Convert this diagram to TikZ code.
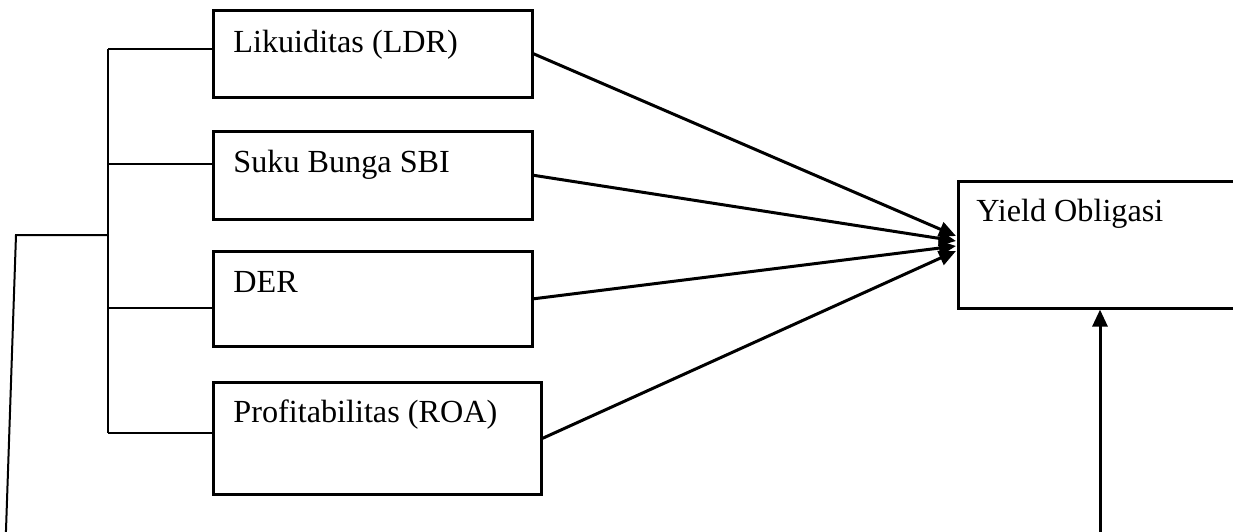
\documentclass[tikz,border=0pt]{standalone}
\usepackage{fontspec}
\setmainfont{Liberation Serif}
\usetikzlibrary{arrows.meta}
\begin{document}
\begin{tikzpicture}[x=0.5pt,y=-0.5pt,
  box/.style={draw, line width=1.3pt, inner sep=0pt, anchor=north west},
  lbl/.style={anchor=base west, inner sep=0pt, font=\fontsize{16.1}{19}\selectfont},
  conn/.style={line width=1.5pt, -{Triangle[length=8.5pt,width=7.5pt]}},
  brk/.style={line width=1pt}]
\clip (0,0) rectangle (1233,531);
% boxes
\node[box, minimum width=159.5pt, minimum height=43.5pt] (b1) at (212,9) {};
\node[box, minimum width=159.5pt, minimum height=44pt] (b2) at (212,130) {};
\node[box, minimum width=159.5pt, minimum height=47.5pt] (b3) at (212,250) {};
\node[box, minimum width=164pt, minimum height=56pt] (b4) at (212,381) {};
\node[box, minimum width=160pt, minimum height=63.5pt] (y) at (957,180) {};
% labels
\node[lbl] (t1) at (233,52) {Likuiditas (LDR)};
\node[lbl] (t2) at (233,172) {Suku Bunga SBI};
\node[lbl] (t3) at (233,292) {DER};
\node[lbl] (t4) at (233,422) {Profitabilitas (ROA)};
\node[lbl] (ty) at (976,221) {Yield Obligasi};
% bracket
\coordinate (k1) at (108,49);
\coordinate (k2) at (108,164);
\coordinate (k3) at (108,308);
\coordinate (k4) at (108,433);
\coordinate (km) at (108,235);
\coordinate (kl) at (16,235);
\coordinate (kb) at (5.5,545);
\draw[brk] (k1) -- (k4);
\draw[brk] (k1) -- (k1 -| b1.west);
\draw[brk] (k2) -- (k2 -| b2.west);
\draw[brk] (k3) -- (k3 -| b3.west);
\draw[brk] (k4) -- (k4 -| b4.west);
\draw[brk] (km) -- (kl) -- (kb);
% arrows into Yield
\coordinate (e1) at (956,236);
\coordinate (e2) at (956,241);
\coordinate (e3) at (956,246);
\coordinate (e4) at (956,251);
\draw[conn] (b1.east) -- (e1);
\draw[conn] (b2.east) -- (e2);
\draw[conn] (b3.east) -- (e3);
\draw[conn] (b4.east) -- (e4);
\coordinate (bt) at (1100,545);
\draw[conn] (bt) -- (bt |- y.south);
\end{tikzpicture}
\end{document}
